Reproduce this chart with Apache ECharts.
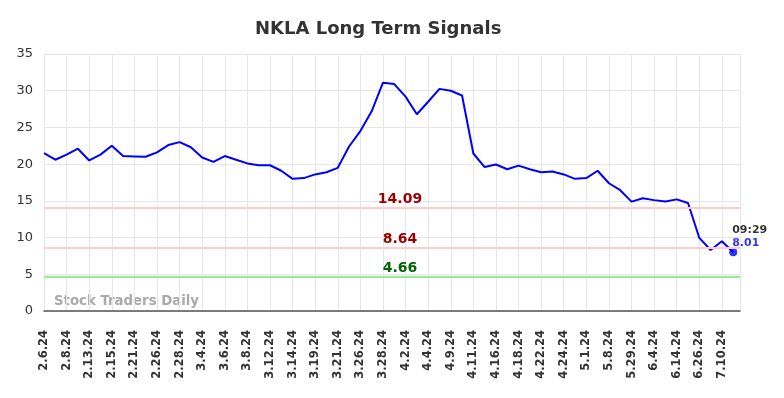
<!DOCTYPE html>
<html>
<head>
<meta charset="utf-8">
<script src="https://cdn.jsdelivr.net/npm/echarts@6/dist/echarts.min.js"></script>
<style>
  html, body { margin: 0; padding: 0; background: #fff; }
  #chart { width: 784px; height: 398px; }
</style>
</head>
<body>
<div id="chart"></div>
<script>
// tick labels, one on every second point
var dateLabels = ['2.6.24', '2.8.24', '2.13.24', '2.15.24', '2.21.24', '2.26.24', '2.28.24', '3.4.24',
    '3.6.24', '3.8.24', '3.12.24', '3.14.24', '3.19.24', '3.21.24', '3.26.24', '3.28.24', '4.2.24',
    '4.4.24', '4.9.24', '4.11.24', '4.16.24', '4.18.24', '4.22.24', '4.24.24', '5.1.24', '5.8.24',
    '5.29.24', '6.4.24', '6.14.24', '6.26.24', '7.10.24'];

var prices = [21.5, 20.6, 21.3, 22.1, 20.5, 21.3, 22.5, 21.1, 21.05, 21.0,
    21.6, 22.6, 23.0, 22.3, 20.9, 20.3, 21.1, 20.6, 20.1, 19.85,
    19.85, 19.1, 18.0, 18.1, 18.6, 18.9, 19.5, 22.4, 24.5, 27.2,
    31.1, 30.9, 29.2, 26.8, 28.5, 30.25, 30.0, 29.35, 21.45, 19.6,
    19.95, 19.3, 19.8, 19.3, 18.9, 19.0, 18.6, 18.0, 18.1, 19.1,
    17.4, 16.45, 14.9, 15.35, 15.1, 14.9, 15.2, 14.7, 9.95, 8.3,
    9.5, 8.01];

var signalLevels = [14.09, 8.64, 4.66];
var signalColors = ['#ffcccc', '#ffcccc', '#90ee90'];
var signalTextColors = ['#990000', '#990000', '#006600'];
var lastTime = '09:29';

var myChart = echarts.init(document.getElementById('chart'));

var points = prices.map(function (v, i) { return [i, v]; });
var lastIdx = prices.length - 1;

var marks = signalLevels.map(function (v, k) {
    return {
        yAxis: v,
        lineStyle: { color: signalColors[k], width: 2, type: 'solid' },
        label: {
            show: true,
            position: 'insideMiddleTop',
            formatter: String(v.toFixed(2)),
            color: signalTextColors[k],
            fontWeight: 'bold',
            fontSize: 14,
            fontFamily: 'DejaVu Sans',
            distance: 1,
            offset: [8, 0]
        }
    };
});

var option = {
    animation: false,
    title: {
        text: 'NKLA Long Term Signals',
        left: 250,
        top: 15,
        textStyle: { fontSize: 18, fontWeight: 'bold', color: '#333', fontFamily: 'DejaVu Sans' }
    },
    grid: { left: 44, right: 44, top: 54, bottom: 87 },
    xAxis: {
        type: 'value',
        min: 0,
        max: 61.6,
        interval: 2,
        axisLine: { show: true, onZero: false, lineStyle: { color: '#555', width: 1.5 } },
        axisTick: { show: false },
        splitLine: { show: true, lineStyle: { color: '#e6e6e6', width: 1 } },
        axisLabel: {
            rotate: 90,
            fontSize: 11.5,
            fontWeight: 'bold',
            color: '#333',
            fontFamily: 'DejaVu Sans',
            margin: 19,
            showMaxLabel: false,
            formatter: function (v) {
                if (v % 2 !== 0) return '';
                return dateLabels[v / 2] || '';
            }
        }
    },
    yAxis: {
        type: 'value',
        min: 0,
        max: 35,
        interval: 5,
        axisLine: { show: false },
        axisTick: { show: false },
        splitLine: { lineStyle: { color: '#e6e6e6', width: 1 } },
        axisLabel: { fontSize: 13, color: '#333', fontFamily: 'DejaVu Sans', margin: 11 }
    },
    graphic: [{
        type: 'text',
        left: 54,
        top: 295,
        style: {
            text: 'Stock Traders Daily',
            fill: '#aaa',
            fontSize: 13.3,
            fontWeight: 'bold',
            fontFamily: 'DejaVu Sans'
        }
    }],
    series: [
        {
            type: 'line',
            data: points,
            showSymbol: false,
            lineStyle: { color: '#0000ff', width: 2 },
            markLine: {
                silent: true,
                symbol: 'none',
                data: marks
            },
            z: 3
        },
        {
            type: 'scatter',
            data: [[lastIdx, prices[lastIdx]]],
            symbol: 'circle',
            symbolSize: 8,
            itemStyle: { color: '#0000ff' },
            label: {
                show: true,
                position: [3, -25],
                align: 'left',
                verticalAlign: 'top',
                formatter: '{t|' + lastTime + '}\n{v|' + prices[lastIdx].toFixed(2) + '}',
                rich: {
                    t: { color: '#000', fontWeight: 'bold', fontSize: 11, lineHeight: 13, fontFamily: 'DejaVu Sans' },
                    v: { color: '#0000ff', fontWeight: 'bold', fontSize: 11, lineHeight: 13, fontFamily: 'DejaVu Sans' }
                }
            },
            z: 4
        }
    ]
};

myChart.setOption(option);
</script>
</body>
</html>
